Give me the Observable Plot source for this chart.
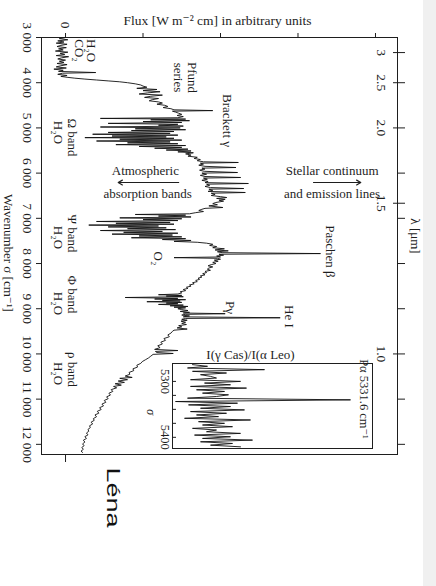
<!DOCTYPE html>
<html><head><meta charset="utf-8">
<script src="https://cdn.jsdelivr.net/npm/d3@7"></script>
<script src="https://cdn.jsdelivr.net/npm/@observablehq/plot@0.6"></script>
<style>
html,body{margin:0;padding:0;}
body{width:436px;height:586px;overflow:hidden;background:linear-gradient(to right,#fff 0,#fff 423px,#f0f0f0 423px);}
#wrap{position:relative;width:436px;height:586px;}
#inset{position:absolute;left:140px;top:347px;}
</style></head><body><div id="wrap"><div id="main"></div><div id="inset"></div></div>
<script>
// ---- data ----
const spectrum = [
[3000,0.00],[3025,-0.08],[3050,0.03],[3075,-0.10],[3100,-0.02],[3125,-0.12],[3150,0.02],[3175,-0.06],[3200,-0.11],[3225,0.01],[3250,-0.09],[3275,-0.03],[3300,-0.13],[3325,0.03],[3350,-0.07],[3375,-0.01],[3400,-0.12],[3425,0.04],[3450,-0.05],[3475,-0.10],[3500,0.00],[3525,-0.08],[3550,-0.02],[3575,-0.11],[3600,0.02],[3625,-0.06],[3650,-0.12],[3675,0.01],[3700,-0.15],[3725,-0.03],[3750,-0.09],[3775,0.39],[3790,-0.04],[3815,-0.10],[3840,0.02],[3860,-0.06],[3880,0.02],
[3900,0.12],[3920,0.25],[3940,0.40],[3960,0.55],[3980,0.70],[4000,0.80],[4025,0.90],[4050,0.97],[4075,1.00],
[4100,1.05],[4125,0.92],[4150,1.18],[4175,1.00],[4200,1.22],[4225,1.06],[4250,0.95],[4275,1.25],[4300,1.10],[4325,1.02],[4350,1.20],[4375,1.12],[4400,1.08],[4425,1.20],[4450,1.25],[4475,1.18],[4500,1.28],[4525,1.32],[4550,1.26],[4575,1.36],[4600,1.40],[4617,1.90],[4630,1.38],[4650,1.42],[4675,1.46],[4700,1.50],[4725,1.44],[4750,1.52],
[4775,1.45],[4790,0.45],[4805,1.55],[4820,1.10],[4840,1.60],[4860,1.00],[4880,1.50],[4900,0.55],[4920,1.45],[4940,1.20],[4960,1.52],[4980,0.45],[5000,1.48],[5020,0.90],[5040,1.55],[5060,0.85],[5080,1.40],[5100,0.55],[5120,1.35],[5140,0.35],[5160,1.45],[5180,0.60],[5200,1.30],[5215,0.25],[5230,1.40],[5250,0.70],[5270,1.50],[5290,0.40],[5310,1.35],[5330,0.80],[5350,1.45],[5370,0.65],[5390,1.55],[5410,0.95],[5430,1.50],[5450,1.15],[5470,1.58],[5490,1.30],[5510,1.62],[5530,1.45],[5550,1.65],
[5575,1.55],[5600,1.62],[5625,1.58],[5650,1.70],[5675,1.66],[5700,1.74],[5725,1.70],[5750,1.78],[5765,2.23],[5780,1.74],[5800,1.78],[5825,1.72],[5850,1.80],[5876,2.20],[5890,1.76],[5910,1.80],[5935,1.73],[5960,1.79],[5987,2.22],[6000,1.76],[6025,1.82],[6050,1.74],[6075,1.80],[6097,2.26],[6110,1.78],[6135,1.83],[6160,1.76],[6185,1.84],[6210,1.80],[6230,2.36],[6245,1.82],[6270,1.86],[6295,1.80],[6320,1.87],[6341,2.30],[6355,1.85],[6380,1.90],[6405,1.84],[6429,2.32],[6445,1.88],[6470,1.93],[6495,1.88],[6520,2.00],[6540,2.08],[6560,1.95],[6580,2.06],[6600,1.98],[6620,2.04],[6650,1.94],[6675,1.90],[6700,1.96],[6725,1.85],[6761,2.03],[6780,1.80],[6800,1.76],[6827,1.72],[6850,1.78],[6875,1.68],
[6900,1.60],[6915,0.90],[6930,1.55],[6950,1.20],[6970,1.62],[6990,0.70],[7010,1.50],[7030,1.00],[7050,1.45],[7070,0.40],[7090,1.35],[7110,0.65],[7130,1.40],[7150,0.30],[7170,1.20],[7190,0.55],[7210,1.30],[7230,0.80],[7250,1.42],[7270,0.45],[7290,1.25],[7310,0.75],[7330,1.45],[7350,0.60],[7370,1.38],[7390,0.95],[7410,1.50],[7430,0.85],[7450,1.55],[7470,1.25],[7490,1.62],[7510,1.40],[7530,1.70],
[7550,1.82],[7575,1.90],[7600,1.86],[7625,1.95],[7650,1.90],[7675,2.05],[7700,1.93],[7720,2.10],[7740,1.96],[7760,2.02],[7780,3.29],[7795,1.98],[7815,2.04],[7835,1.95],[7855,2.00],[7870,1.40],[7885,1.96],[7905,2.00],[7925,1.92],[7950,1.97],[7975,1.90],[8000,1.94],
[8025,1.88],[8050,1.84],[8075,1.90],[8100,1.85],[8125,1.83],[8150,1.87],[8175,1.80],[8200,1.82],[8225,1.77],[8250,1.80],[8275,1.74],[8300,1.76],[8325,1.71],[8350,1.73],[8375,1.68],[8400,1.70],[8425,1.64],[8450,1.66],[8475,1.60],[8500,1.62],[8525,1.56],[8550,1.58],[8575,1.52],[8600,1.55],[8625,1.48],[8650,1.50],
[8675,1.45],[8690,1.20],[8705,1.50],[8720,1.30],[8735,1.52],[8752,0.77],[8770,1.45],[8785,1.15],[8800,1.55],[8815,1.25],[8830,1.48],[8845,1.05],[8860,1.50],[8875,1.30],[8890,1.45],[8905,1.20],[8920,1.52],[8935,1.35],[8950,1.58],[8965,1.40],[8980,1.55],[9000,1.45],
[9020,1.50],[9040,1.58],[9060,1.48],[9080,1.60],[9095,1.52],[9110,2.06],[9125,1.55],[9140,1.50],[9160,1.60],[9180,1.52],[9200,2.77],[9215,1.55],[9235,1.50],[9255,1.57],[9275,1.49],[9300,1.55],[9325,1.50],[9350,1.56],[9375,1.46],[9400,1.50],[9425,1.44],[9450,1.57],[9475,1.40],[9500,1.38],
[9540,1.36],[9580,1.32],[9620,1.34],[9660,1.27],[9700,1.29],[9740,1.23],[9780,1.25],[9820,1.19],[9860,1.22],[9900,1.15],[9925,1.45],[9945,1.16],[9970,1.18],[9990,1.39],[10010,1.13],[10050,1.10],[10090,1.07],[10130,1.03],[10170,0.99],[10210,0.97],[10250,0.92],[10290,0.93],[10330,0.87],[10370,0.88],[10410,0.82],[10450,0.83],[10490,0.77],[10520,0.86],[10540,0.70],[10570,0.80],[10600,0.68],[10630,0.76],[10660,0.64],[10690,0.72],[10720,0.62],[10750,0.66],[10790,0.59],[10830,0.61],[10870,0.56],[10910,0.58],[10950,0.53],[10990,0.55],[11030,0.50],[11070,0.52],[11110,0.47],[11150,0.49],[11190,0.44],[11230,0.46],[11270,0.41],[11310,0.43],[11350,0.38],[11390,0.40],[11430,0.36],[11470,0.37],[11510,0.33],[11550,0.35],[11590,0.31],[11630,0.32],[11670,0.29],[11710,0.30],[11750,0.27],[11790,0.29],[11830,0.25],[11870,0.27],[11910,0.23],[11950,0.25],[11990,0.22],[12030,0.24],[12070,0.21],[12110,0.23],[12150,0.20],[12180,0.22]
];
const insetSpectrum = [
[5270,1.0],[5273,1.75],[5276,0.75],[5279,4.6],[5282,1.0],[5285,2.7],[5288,1.4],[5291,1.9],[5294,2.2],[5297,0.9],[5300,3.4],[5303,1.6],[5306,2.9],[5309,0.9],[5312,3.7],[5315,1.2],[5318,2.6],[5321,1.5],[5324,2.8],[5327,2.2],[5330,0.75],[5333,8.9],[5336,0.15],[5339,3.25],[5342,0.8],[5345,2.9],[5348,1.4],[5351,3.6],[5354,0.9],[5357,2.7],[5360,1.2],[5363,2.3],[5366,0.6],[5369,3.9],[5372,1.3],[5375,2.6],[5378,1.5],[5381,3.0],[5384,1.0],[5387,2.2],[5390,1.7],[5393,3.4],[5396,1.1],[5399,2.9],[5402,1.5],[5405,4.0],[5408,1.4],[5411,3.0],[5414,1.9],[5417,3.4]
];
const fluxTicks = [0, 1, 2, 3, 4];
const sigmaTicks = [3000, 4000, 5000, 6000, 7000, 8000, 9000, 10000, 11000, 12000];
const lambdaMajor = [3, 2.5, 2.0, 1.5, 1.0];
const lambdaLabels = ["3", "2.5", "2.0", "1.5", "1.0"];
const sigmaMinorRight = [6000, 7000, 8000, 9000, 11000, 12000];
const insetLabelTicks = [5300, 5400];
const insetMinorTicks = [5300, 5325, 5350, 5375, 5400];
const rotatedNotes = [
  {text: "H₂O", sigma: 3290, flux: 0.33},
  {text: "CO₂", sigma: 3290, flux: 0.18},
  {text: "Pfund", sigma: 3885, flux: 1.64},
  {text: "series", sigma: 3885, flux: 1.45},
  {text: "Brackett γ", sigma: 4836, flux: 2.09},
  {text: "Ω band", sigma: 5212, flux: 0.09},
  {text: "H₂O", sigma: 5102, flux: -0.10},
  {text: "Ψ band", sigma: 7336, flux: 0.09},
  {text: "H₂O", sigma: 7425, flux: -0.10},
  {text: "Φ band", sigma: 8686, flux: 0.09},
  {text: "H₂O", sigma: 8885, flux: -0.10},
  {text: "ρ band", sigma: 10345, flux: 0.09},
  {text: "H₂O", sigma: 10434, flux: -0.10},
  {text: "Paschen β", sigma: 7734, flux: 3.41},
  {text: "O₂", sigma: 7889, flux: 1.19},
  {text: "Pγ", sigma: 8973, flux: 2.13},
  {text: "He I", sigma: 9172, flux: 2.89}
];
const flatNotes = [
  {text: "Atmospheric", sigma: 5942, flux: 1.03},
  {text: "absorption bands", sigma: 6451, flux: 1.06},
  {text: "Stellar continuum", sigma: 5942, flux: 3.44},
  {text: "and emission lines", sigma: 6451, flux: 3.44}
];
const arrows = [
  {sigma: 6208, from: 1.46, to: 0.68},
  {sigma: 6208, from: 3.20, to: 3.81}
];
const titleFlux = "Flux [W m⁻² cm] in arbitrary units";
const titleSigma = "Wavenumber σ [cm⁻¹]";
const titleLambda = "λ [μm]";
const insetTitle = "I(γ Cas)/I(α Leo)";
const insetNote = "Pα 5331.6 cm⁻¹";
const signature = "Léna";

// ---- drawing ----
const ink = "#1e1e1e";
const serif = "'Liberation Serif', 'DejaVu Serif', serif";
const fmtSigma = d => String(d).replace(/\B(?=(\d{3})+(?!\d))/g, " ");
const lambdaSigma = lambdaMajor.map(l => 1e4 / l);
const lambdaText = new Map(lambdaSigma.map((s, i) => [s, lambdaLabels[i]]));
const centered = {textAnchor: "middle", lineAnchor: "middle"};

const main = Plot.plot({
  width: 436, height: 586,
  marginTop: 37, marginBottom: 132, marginLeft: 41, marginRight: 39,
  style: {fontFamily: serif, fontSize: "12.5px", color: ink, background: "transparent", overflow: "visible"},
  x: {domain: [-0.31, 4.284], axis: null},
  y: {domain: [3000, 12225], reverse: true, axis: null},
  marks: [
    Plot.frame({stroke: ink}),
    Plot.axisY(sigmaTicks, {anchor: "left", tickSize: 5, tickRotate: 90, tickFormat: fmtSigma, label: null, stroke: ink, fontSize: 13.5}),
    Plot.axisY(lambdaSigma, {anchor: "right", tickSize: 12, dx: -5, tickFormat: () => "", label: null, stroke: ink}),
    Plot.axisY(lambdaSigma, {anchor: "right", tickSize: 0, tickPadding: -11, tickRotate: 90, tickFormat: d => lambdaText.get(d), label: null, fontSize: 13.5}),
    Plot.axisY(sigmaMinorRight, {anchor: "right", tickSize: 7, tickFormat: () => "", label: null, stroke: ink}),
    Plot.axisX(fluxTicks, {anchor: "top", tickSize: 5, tickRotate: 90, tickFormat: d => d === 0 ? "0" : "", label: null, stroke: ink, fontSize: 13.5}),
    Plot.axisX([0], {anchor: "bottom", tickSize: 8, tickFormat: () => "", label: null, stroke: ink}),
    Plot.line(spectrum, {x: d => d[1], y: d => d[0], stroke: "#111", strokeWidth: 0.9}),
    Plot.text(rotatedNotes, {x: "flux", y: "sigma", text: "text", rotate: 90, fill: ink, fontSize: 13}),
    Plot.text(flatNotes, {x: "flux", y: "sigma", text: "text", fill: ink, fontSize: 13}),
    Plot.arrow(arrows, {x1: "from", x2: "to", y1: "sigma", y2: "sigma", stroke: ink, strokeWidth: 1.2, headLength: 6}),
    Plot.text([titleFlux], {text: d => d, frameAnchor: "top", dy: -17, dx: -2, fill: ink, fontSize: 13.5, ...centered}),
    Plot.text([titleSigma], {text: d => d, frameAnchor: "left", dx: -33, dy: 7, rotate: 90, fill: ink, fontSize: 13, ...centered}),
    Plot.text([titleLambda], {text: d => d, frameAnchor: "right", dx: 18, dy: -10, rotate: 90, fill: ink, fontSize: 13, ...centered}),
    Plot.text([signature], {text: d => d, frameAnchor: "bottom-left", dx: 71, dy: 43, rotate: 90, fill: "#111", fontFamily: "'Liberation Sans', Arial, sans-serif", fontSize: 18, className: "lena", ...centered})
  ]
});
document.getElementById("main").appendChild(main);
main.querySelectorAll(".lena text").forEach(t => {
  const tr = t.getAttribute("transform") || "";
  t.setAttribute("transform", tr + " scale(1.5,1)");
});

const inset = Plot.plot({
  width: 234, height: 103,
  marginTop: 16, marginBottom: 2, marginLeft: 32, marginRight: 2,
  style: {fontFamily: serif, fontSize: "12.5px", color: ink, background: "transparent", overflow: "visible"},
  x: {domain: [0, 10], axis: null},
  y: {domain: [5268, 5420], reverse: true, axis: null},
  marks: [
    Plot.frame({stroke: ink}),
    Plot.axisY(insetLabelTicks, {anchor: "left", tickSize: 0, tickPadding: 3, tickRotate: 90, tickFormat: d => String(d), label: null}),
    Plot.axisY(insetMinorTicks, {anchor: "left", tickSize: 4, dx: 4, tickFormat: () => "", label: null, stroke: ink}),
    Plot.line(insetSpectrum, {x: d => d[1], y: d => d[0], stroke: "#111", strokeWidth: 0.9}),
    Plot.text([insetTitle], {text: d => d, frameAnchor: "top", dy: -9, dx: -22, fill: ink, fontSize: 13, ...centered}),
    Plot.text([insetNote], {text: d => d, frameAnchor: "right", dx: -9, dy: -7, rotate: 90, fill: ink, ...centered}),
    Plot.text(["σ"], {text: d => d, frameAnchor: "left", dx: -22, dy: 6, rotate: 90, fill: ink, fontStyle: "italic", ...centered})
  ]
});
document.getElementById("inset").appendChild(inset);
</script></body></html>
